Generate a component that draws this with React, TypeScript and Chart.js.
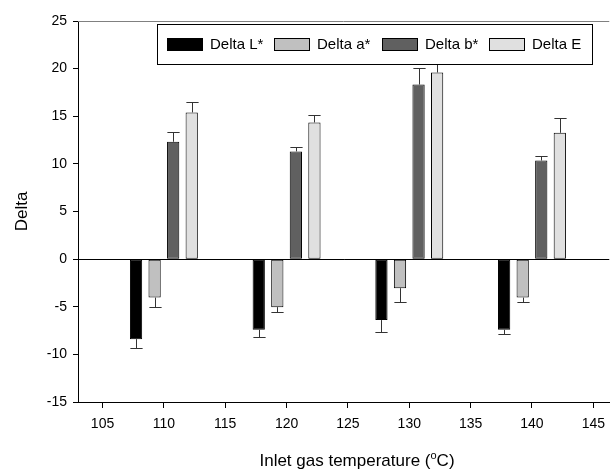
import React, { useEffect, useRef } from 'react';
import { Chart, registerables } from 'chart.js';

Chart.register(...registerables);

// ---- Data ----
const categories = [110, 120, 130, 140];
const seriesNames = ['Delta L*', 'Delta a*', 'Delta b*', 'Delta E'];
const deltaL = [-8.4, -7.42, -6.4, -7.42];
const deltaLErr = [0.94, 0.77, 1.26, 0.45];
const deltaA = [-4.04, -5.04, -3.05, -4.04];
const deltaAErr = [1.0, 0.46, 1.47, 0.48];
const deltaB = [12.32, 11.31, 18.33, 10.35];
const deltaBErr = [0.98, 0.48, 1.74, 0.49];
const deltaE = [15.4, 14.35, 19.59, 13.26];
const deltaEErr = [1.05, 0.8, 1.2, 1.51];
const xTickValues = [105, 110, 115, 120, 125, 130, 135, 140, 145];
const yTickValues = [-15, -10, -5, 0, 5, 10, 15, 20, 25];

const seriesValues = [deltaL, deltaA, deltaB, deltaE];
const seriesErrors = [deltaLErr, deltaAErr, deltaBErr, deltaEErr];
const seriesColors = ['#000000', '#c0c0c0', '#606060', '#e0e0e0'];

const FONT = "'Liberation Sans', Arial, Helvetica, sans-serif";

const errorBarPlugin = {
  id: 'errorBars',
  afterDatasetsDraw(chart: any) {
    const ctx = chart.ctx;
    const yScale = chart.scales.y;
    chart.data.datasets.forEach((ds: any, di: number) => {
      const meta = chart.getDatasetMeta(di);
      meta.data.forEach((bar: any, i: number) => {
        const v = ds.data[i].y;
        const e = ds.errors[i];
        const end = v + (v >= 0 ? e : -e);
        const yEnd = Math.round(yScale.getPixelForValue(end)) + 0.5;
        const x = Math.round(bar.x) + 0.5;
        const half = bar.width / 2;
        ctx.save();
        ctx.strokeStyle = '#333333';
        ctx.lineWidth = 1;
        ctx.beginPath();
        ctx.moveTo(x, bar.y);
        ctx.lineTo(x, yEnd);
        ctx.moveTo(x - half, yEnd);
        ctx.lineTo(x + half, yEnd);
        ctx.stroke();
        ctx.restore();
      });
    });
  },
};

const decorPlugin = {
  id: 'decor',
  afterDraw(chart: any) {
    const ctx = chart.ctx;
    const area = chart.chartArea;
    ctx.save();
    // top frame line
    ctx.strokeStyle = '#808080';
    ctx.lineWidth = 1;
    ctx.beginPath();
    ctx.moveTo(area.left, Math.round(area.top) + 0.5);
    ctx.lineTo(area.right, Math.round(area.top) + 0.5);
    ctx.stroke();

    // x axis title with superscript
    const main1 = 'Inlet gas temperature (';
    const sup = 'o';
    const main2 = 'C)';
    ctx.fillStyle = '#000';
    ctx.textBaseline = 'alphabetic';
    ctx.textAlign = 'left';
    const bigFont = `17px ${FONT}`;
    const smallFont = `11px ${FONT}`;
    ctx.font = bigFont;
    const w1 = ctx.measureText(main1).width;
    const w3 = ctx.measureText(main2).width;
    ctx.font = smallFont;
    const w2 = ctx.measureText(sup).width;
    const total = w1 + w2 + w3;
    const cx = 357;
    const baseY = 466;
    let xx = cx - total / 2;
    ctx.font = bigFont;
    ctx.fillText(main1, xx, baseY);
    xx += w1;
    ctx.font = smallFont;
    ctx.fillText(sup, xx, baseY - 7);
    xx += w2;
    ctx.font = bigFont;
    ctx.fillText(main2, xx, baseY);

    // legend box
    const lx = 157, ly = 24, lw = 435, lh = 40;
    ctx.fillStyle = '#ffffff';
    ctx.fillRect(lx, ly, lw, lh);
    ctx.strokeStyle = '#000000';
    ctx.strokeRect(lx + 0.5, ly + 0.5, lw, lh);
    ctx.font = `15px ${FONT}`;
    ctx.textBaseline = 'middle';
    seriesNames.forEach((name, i) => {
      const sx = 167 + i * 107.4;
      ctx.fillStyle = seriesColors[i];
      ctx.fillRect(Math.round(sx), 38, 35, 12);
      ctx.strokeStyle = '#000';
      ctx.strokeRect(Math.round(sx) + 0.5, 38.5, 35, 12);
      ctx.fillStyle = '#000';
      ctx.fillText(name, Math.round(sx) + 43, 45);
    });
    ctx.restore();
  },
};

export default function App() {
  const canvasRef = useRef<HTMLCanvasElement | null>(null);

  useEffect(() => {
    if (!canvasRef.current) return;
    Chart.defaults.font.family = FONT;
    Chart.defaults.color = '#000';

    const datasets = seriesNames.map((name, si) => ({
      label: name,
      data: categories.map((c, i) => ({ x: c, y: seriesValues[si][i] })),
      errors: seriesErrors[si],
      backgroundColor: seriesColors[si],
      borderColor: '#000000',
      borderWidth: 1,
      borderSkipped: false,
      categoryPercentage: 1.21,
      barPercentage: 0.66,
    }));

    const chart = new Chart(canvasRef.current, {
      type: 'bar',
      data: { datasets: datasets as any },
      plugins: [errorBarPlugin, decorPlugin],
      options: {
        responsive: false,
        animation: false,
        layout: { padding: { top: 21, right: 0, left: 0, bottom: 0 } },
        plugins: {
          legend: { display: false },
          tooltip: { enabled: false },
        },
        scales: {
          x: {
            type: 'linear',
            offset: false,
            min: 103,
            max: 146.3,
            afterBuildTicks: (scale: any) => {
              scale.ticks = xTickValues.map((v) => ({ value: v }));
            },
            afterFit: (scale: any) => {
              scale.height = 71;
            },
            grid: {
              display: true,
              offset: false,
              drawOnChartArea: false,
              drawTicks: true,
              tickLength: 6,
              tickColor: '#000',
            },
            border: { display: true, color: '#000', width: 1 },
            ticks: {
              font: { size: 14 },
              color: '#000',
              padding: 8,
              maxRotation: 0,
              autoSkip: false,
              callback: (v: any) => String(v),
            },
          },
          y: {
            type: 'linear',
            min: -15,
            max: 25,
            afterBuildTicks: (scale: any) => {
              scale.ticks = yTickValues.map((v) => ({ value: v }));
            },
            afterFit: (scale: any) => {
              scale.width = 78;
            },
            grid: {
              display: true,
              drawOnChartArea: true,
              color: (ctx: any) => (ctx.tick && ctx.tick.value === 0 ? '#000' : 'rgba(0,0,0,0)'),
              tickColor: '#000',
              tickLength: 5,
            },
            border: { display: true, color: '#000', width: 1 },
            ticks: {
              font: { size: 14 },
              color: '#000',
              padding: 6,
              callback: (v: any) => String(v),
            },
            title: {
              display: true,
              text: 'Delta',
              font: { size: 17 },
              color: '#000',
              padding: { top: 12, bottom: 0 },
            },
          },
        },
      } as any,
    });
    return () => chart.destroy();
  }, []);

  return (
    <div style={{ position: 'absolute', left: 0, top: 0, width: 613, height: 473 }}>
      <canvas ref={canvasRef} width={613} height={473} />
    </div>
  );
}
